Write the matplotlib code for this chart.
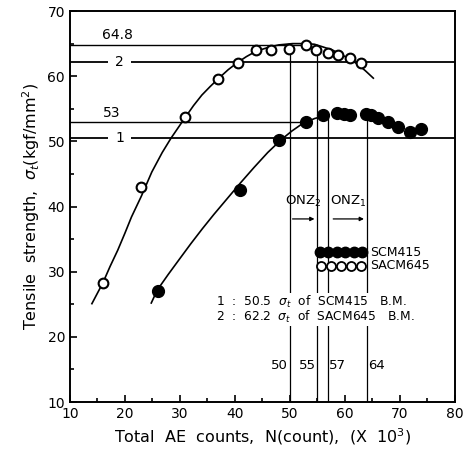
import numpy as np
import matplotlib
matplotlib.use('Agg')
import matplotlib.pyplot as plt

plt.rcParams['font.family'] = ['DejaVu Sans']

# SACM645 (open circles)
sacm_x = [16, 23, 31, 37, 40.5, 43.8, 46.5, 49.8, 52.9, 54.8, 57, 58.8, 61, 63]
sacm_y = [28.2, 43, 53.8, 59.5, 62, 64, 64, 64.2, 64.8, 64, 63.6, 63.3, 62.8, 62.1]
# SCM415 (filled circles)
scm_x = [26, 41, 48, 52.9, 56, 58.6, 59.8, 61, 63.8, 64.7, 66.1, 67.9, 69.7, 71.8, 73.8]
scm_y = [27, 42.5, 50.2, 53, 54, 54.3, 54.2, 54, 54.2, 54, 53.6, 53, 52.2, 51.4, 51.9]

# fitted curves
sacm_cx = [14.0, 15.0, 16.0, 17.3, 18.7, 20.0, 21.2, 23.0, 24.9, 26.8, 28.4, 31.0, 32.5, 34.0,
           35.5, 37.1, 38.8, 40.5, 42.1, 43.8, 46.0, 48.0, 50.5, 52.9, 54.5, 56.0, 57.8, 59.4,
           61.0, 62.4, 63.8, 65.2]
sacm_cy = [25.1, 26.7, 28.3, 30.8, 33.3, 35.9, 38.4, 41.6, 45.3, 48.3, 50.5, 53.7, 55.5, 57.1,
           58.4, 59.7, 61.0, 62.1, 63.0, 63.8, 64.4, 64.8, 65.0, 65.0, 64.9, 64.5, 64.0, 63.3,
           62.6, 61.8, 60.8, 59.7]
scm_cx = [24.8, 25.9, 27.9, 29.9, 32.0, 34.1, 36.2, 38.4, 41.0, 43.5, 46.0, 48.5, 50.4, 52.1,
          53.4, 54.5, 55.8, 57.0]
scm_cy = [25.2, 27.2, 29.6, 31.9, 34.3, 36.6, 38.8, 41.0, 43.6, 46.0, 48.3, 50.3, 51.6, 52.6,
          53.1, 53.5, 53.8, 53.9]

hlines = [64.8, 62.2, 53, 50.5]
vlines = [50, 55, 57, 64]
vtops = [63.3, 63.3, 54.0, 54.2]

fig = plt.figure(figsize=(4.63, 4.59), dpi=100)
ax = fig.add_axes([0.151, 0.124, 0.831, 0.852])

ax.plot(sacm_cx, sacm_cy, color='k', lw=1.2)
ax.plot(scm_cx, scm_cy, color='k', lw=1.2)
ax.plot(sacm_x, sacm_y, 'o', mfc='white', mec='k', mew=1.5, ms=7, zorder=5)
ax.plot(scm_x, scm_y, 'o', color='k', ms=8.5, zorder=5)

# reference lines
ax.plot([10, 52.5], [hlines[0]] * 2, color='k', lw=1)
ax.plot([10, 80], [hlines[1]] * 2, color='k', lw=1.3)
ax.plot([10, 52.5], [hlines[2]] * 2, color='k', lw=1)
ax.plot([10, 80], [hlines[3]] * 2, color='k', lw=1.3)
for xv, yt in zip(vlines, vtops):
    ax.plot([xv, xv], [10, yt], color='k', lw=0.9)

ax.text(18.7, 65.2, '64.8', fontsize=10, ha='center', va='bottom')
ax.text(17.6, 53.3, '53', fontsize=10, ha='center', va='bottom')
ax.text(19.0, 62.2, '2', fontsize=10, ha='center', va='center', bbox=dict(facecolor='white', edgecolor='none', pad=5))
ax.text(19.0, 50.5, '1', fontsize=10, ha='center', va='center', bbox=dict(facecolor='white', edgecolor='none', pad=5))

# ONZ zones
ax.text(52.5, 40.8, 'ONZ$_2$', fontsize=9.5, ha='center', va='center')
ax.text(60.6, 40.8, 'ONZ$_1$', fontsize=9.5, ha='center', va='center')
ax.annotate('', xy=(55, 38.1), xytext=(50, 38.1),
            arrowprops=dict(arrowstyle='-|>', color='k', lw=0.9, mutation_scale=6))
ax.annotate('', xy=(64, 38.1), xytext=(57.4, 38.1),
            arrowprops=dict(arrowstyle='-|>', color='k', lw=0.9, mutation_scale=6))

# legend
ax.plot(np.linspace(55.5, 63.2, 6), [33.0] * 6, 'o', color='k', ms=7.5, zorder=6)
ax.plot(np.linspace(55.6, 63.0, 5), [30.9] * 5, 'o', mfc='white', mec='k', mew=1.3, ms=6.5, zorder=6)
ax.text(64.6, 33.0, 'SCM415', fontsize=9, va='center')
ax.text(64.6, 30.9, 'SACM645', fontsize=9, va='center')

ax.text(36.6, 24.2, '1  :  50.5  $\\sigma_t$  of  SCM415   B.M.\n2  :  62.2  $\\sigma_t$  of  SACM645   B.M.',
        fontsize=8.8, va='center', linespacing=0.95,
        bbox=dict(facecolor='white', edgecolor='none', pad=0.5))

ax.text(49.7, 15.6, '50', fontsize=9.5, ha='right', va='center')
ax.text(54.7, 15.6, '55', fontsize=9.5, ha='right', va='center')
ax.text(57.2, 15.6, '57', fontsize=9.5, ha='left', va='center')
ax.text(64.2, 15.6, '64', fontsize=9.5, ha='left', va='center')

ax.set_xlim(10, 80)
ax.set_ylim(10, 70)
ax.set_xticks(range(10, 81, 10))
ax.set_yticks(range(10, 71, 10))
ax.set_xticks(range(15, 80, 10), minor=True)
ax.set_yticks(range(15, 70, 10), minor=True)
ax.tick_params(which='both', direction='in', labelsize=10, width=1.2)
ax.tick_params(which='major', length=5)
ax.tick_params(which='minor', length=3)
for s in ax.spines.values():
    s.set_linewidth(1.4)

ax.set_xlabel(r'Total  AE  counts,  N(count),  (X  10$^3$)', fontsize=11.5, labelpad=4)
ax.set_ylabel(r'Tensile  strength,  $\sigma_t$(kgf/mm$^2$)', fontsize=11.5, labelpad=4)

fig.savefig('out.png', dpi=100)
